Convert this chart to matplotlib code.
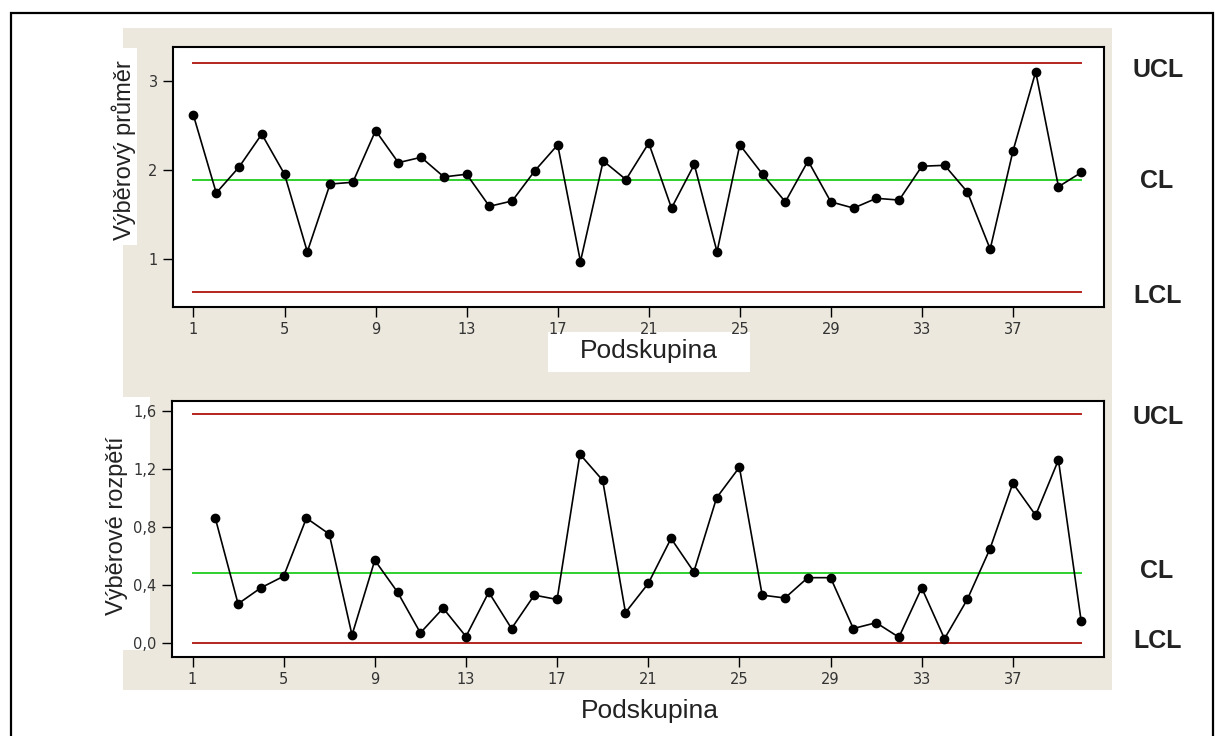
import numpy as np
import matplotlib.pyplot as plt
from matplotlib.patches import Rectangle

# ================= data =================
subgroups = np.arange(1, 41)
means = [2.61, 1.74, 2.03, 2.40, 1.95, 1.08, 1.84, 1.86, 2.44, 2.08,
         2.14, 1.92, 1.95, 1.59, 1.65, 1.99, 2.28, 0.97, 2.10, 1.89,
         2.30, 1.57, 2.06, 1.08, 2.28, 1.95, 1.64, 2.10, 1.64, 1.57,
         1.68, 1.66, 2.04, 2.05, 1.75, 1.11, 2.21, 3.10, 1.81, 1.97]
range_subgroups = np.arange(2, 41)
ranges = [0.86, 0.27, 0.38, 0.46, 0.86, 0.75, 0.055, 0.57, 0.35, 0.07,
          0.24, 0.045, 0.35, 0.10, 0.33, 0.30, 1.30, 1.12, 0.21, 0.41,
          0.72, 0.49, 1.00, 1.21, 0.33, 0.31, 0.45, 0.45, 0.10, 0.14,
          0.04, 0.38, 0.03, 0.30, 0.65, 1.10, 0.88, 1.26, 0.15]

mean_limits = {'UCL': 3.20, 'CL': 1.89, 'LCL': 0.63}
range_limits = {'UCL': 1.575, 'CL': 0.483, 'LCL': 0.0}

x_ticks = [1, 5, 9, 13, 17, 21, 25, 29, 33, 37]
mean_ticks = [1, 2, 3]
range_ticks = [0.0, 0.4, 0.8, 1.2, 1.6]
range_tick_labels = ['0,0', '0,4', '0,8', '1,2', '1,6']

# ================= figure in pixel terms =================
W, H = 1215, 736
fig = plt.figure(figsize=(W / 100, H / 100), dpi=100)
fig.patch.set_facecolor('white')

BEIGE = '#ECE8DE'
RED = '#B3261E'
GREEN = '#2FD02F'


def px_rect(x0, y0, x1, y1):
    return [x0 / W, 1 - y1 / H, (x1 - x0) / W, (y1 - y0) / H]


def add_box(x0, y0, x1, y1, face='none', edge='none', lw=0):
    fig.patches.append(Rectangle((x0 / W, 1 - y1 / H), (x1 - x0) / W, (y1 - y0) / H,
                                 transform=fig.transFigure, facecolor=face,
                                 edgecolor=edge, linewidth=lw, zorder=-5))


def px_text(x, y, s, **kw):
    fig.text(x / W, 1 - y / H, s, **kw)


# background panels
add_box(123, 28, 1112, 397, face=BEIGE)
add_box(150, 397, 1112, 690, face=BEIGE)
add_box(123, 650, 150, 690, face=BEIGE)
add_box(100, 48, 137, 245, face='white')
add_box(548, 332, 750, 372, face='white')
# outer frame
add_box(11, 13, 1213, 760, edge='black', lw=1.6)


def control_chart(ax, xs, ys, limits, yticks, ylim):
    for key, val in limits.items():
        ax.plot([1, 40], [val, val], color=GREEN if key == 'CL' else RED,
                lw=1.4, zorder=2)
    ax.plot(xs, ys, color='black', lw=1.2, marker='o', markersize=6, zorder=3)
    ax.set_xlim(0.1, 41.0)
    ax.set_ylim(*ylim)
    ax.set_xticks(x_ticks)
    ax.set_yticks(yticks)
    ax.tick_params(direction='out', length=7, width=1, colors='black',
                   labelcolor='#333333', labelsize=10.5, pad=4)
    for sp in ax.spines.values():
        sp.set_linewidth(1.5)
    ax.set_facecolor('white')


ax1 = fig.add_axes(px_rect(173, 47, 1104, 307))
control_chart(ax1, subgroups, means, mean_limits, mean_ticks, (0.46, 3.378))

ax2 = fig.add_axes(px_rect(172, 401, 1104, 657))
control_chart(ax2, range_subgroups, ranges, range_limits, range_ticks, (-0.096, 1.666))
ax2.set_yticklabels(range_tick_labels)

font = 'Liberation Sans'
px_text(124, 150, 'Výběrový průměr', rotation=90, ha='center', va='center',
        fontsize=17, family=font, color='#222222')
px_text(117, 526, 'Výběrové rozpětí', rotation=90, ha='center', va='center',
        fontsize=17, family=font, color='#222222')
px_text(649, 351, 'Podskupina', ha='center', va='center', fontsize=19,
        family=font, color='#222222')
px_text(650, 711, 'Podskupina', ha='center', va='center', fontsize=19,
        family=font, color='#222222')

# limit names to the right of each chart
for label, x, y in [('UCL', 1133, 70), ('CL', 1140, 181), ('LCL', 1133, 296),
                    ('UCL', 1133, 417), ('CL', 1140, 571), ('LCL', 1133, 641)]:
    px_text(x, y, label, ha='left', va='center', fontsize=18, fontweight='bold',
            family=font, color='#222222')

fig.savefig('out.png', dpi=100)
